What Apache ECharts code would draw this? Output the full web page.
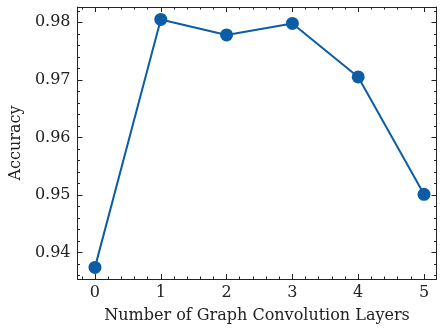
<!DOCTYPE html>
<html>
<head>
<meta charset="utf-8">
<script src="https://cdn.jsdelivr.net/npm/echarts@6/dist/echarts.min.js"></script>
<style>
html,body{margin:0;padding:0;background:#fff;}
#chart{width:440px;height:329px;}
</style>
</head>
<body>
<div id="chart"></div>
<script>
const layers = [0, 1, 2, 3, 4, 5];
const accuracy = [0.9374, 0.9805, 0.9778, 0.9798, 0.9705, 0.9501];
const xMajorTicks = [0, 1, 2, 3, 4, 5];
const xMinorTicks = [-0.2, 0.2, 0.4, 0.6, 0.8, 1.2, 1.4, 1.6, 1.8, 2.2, 2.4, 2.6, 2.8, 3.2, 3.4, 3.6, 3.8, 4.2, 4.4, 4.6, 4.8];
const yMajorTicks = [0.94, 0.95, 0.96, 0.97, 0.98];
const yMinorTicks = [0.936, 0.938, 0.942, 0.944, 0.946, 0.948, 0.952, 0.954, 0.956, 0.958, 0.962, 0.964, 0.966, 0.968, 0.972, 0.974, 0.976, 0.978, 0.982];
const xTitle = 'Number of Graph Convolution Layers';
const yTitle = 'Accuracy';

const FONT = 'DejaVu Serif';
const FS = 16;
const INK = '#222';
const X_MIN = -0.265, X_MAX = 5.19;
const Y_MIN = 0.93538, Y_MAX = 0.98266;

function xAxisDef(pos, major, withLabels) {
  return {
    type: 'value', position: pos, min: X_MIN, max: X_MAX,
    axisLine: { show: major, onZero: false, lineStyle: { color: INK, width: 1 } },
    axisTick: { show: true, inside: true, length: major ? 5 : 2.5,
      customValues: major ? xMajorTicks : xMinorTicks,
      lineStyle: { color: INK, width: 1 } },
    axisLabel: withLabels ? { show: true, customValues: xMajorTicks, formatter: v => String(v),
      fontFamily: FONT, fontSize: FS, color: INK, margin: 6 } : { show: false },
    splitLine: { show: false },
    name: withLabels ? xTitle : '',
    nameLocation: 'middle', nameGap: 29,
    nameTextStyle: { fontFamily: FONT, fontSize: FS, color: INK }
  };
}
function yAxisDef(pos, major, withLabels) {
  return {
    type: 'value', position: pos, min: Y_MIN, max: Y_MAX,
    axisLine: { show: major, onZero: false, lineStyle: { color: INK, width: 1 } },
    axisTick: { show: true, inside: true, length: major ? 5 : 2.5,
      customValues: major ? yMajorTicks : yMinorTicks,
      lineStyle: { color: INK, width: 1 } },
    axisLabel: withLabels ? { show: true, customValues: yMajorTicks, formatter: v => v.toFixed(2),
      fontFamily: FONT, fontSize: FS, color: INK, margin: 7 } : { show: false },
    splitLine: { show: false },
    name: withLabels ? yTitle : '',
    nameLocation: 'middle', nameGap: 51,
    nameTextStyle: { fontFamily: FONT, fontSize: FS, color: INK }
  };
}

const chart = echarts.init(document.getElementById('chart'), null, { renderer: 'canvas' });
chart.setOption({
  animation: false,
  backgroundColor: '#fff',
  grid: { left: 76, right: 3.5, top: 7, bottom: 50, containLabel: false },
  xAxis: [
    xAxisDef('bottom', true, true),
    xAxisDef('bottom', false, false),
    xAxisDef('top', true, false),
    xAxisDef('top', false, false)
  ],
  yAxis: [
    yAxisDef('left', true, true),
    yAxisDef('left', false, false),
    yAxisDef('right', true, false),
    yAxisDef('right', false, false)
  ],
  series: [{
    type: 'line',
    xAxisIndex: 0, yAxisIndex: 0,
    data: layers.map((x, i) => [x, accuracy[i]]),
    symbol: 'circle', symbolSize: 13,
    lineStyle: { color: '#0C5DA5', width: 2 },
    itemStyle: { color: '#0C5DA5' },
    z: 3
  }]
});
</script>
</body>
</html>
